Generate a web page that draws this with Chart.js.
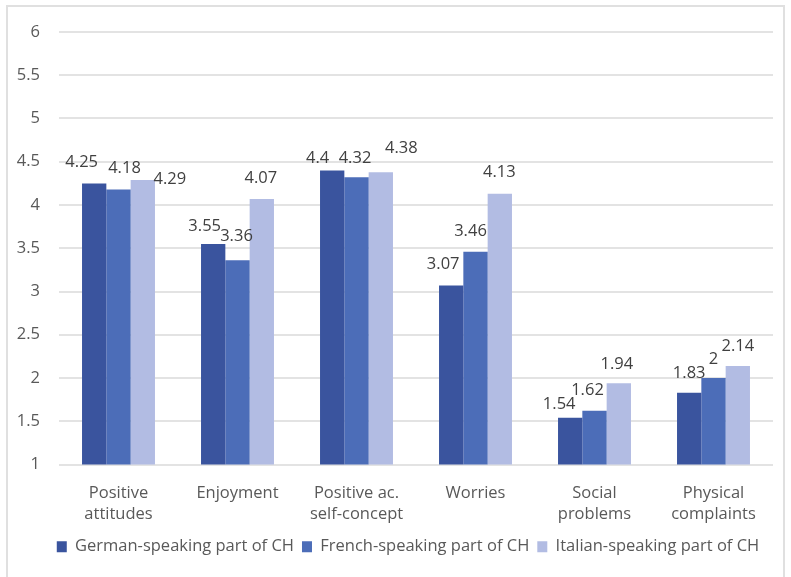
<!DOCTYPE html>
<html>
<head>
<meta charset="utf-8">
<script src="https://cdn.jsdelivr.net/npm/chart.js@4.4.1/dist/chart.umd.min.js"></script>
<style>
  html, body { margin: 0; padding: 0; background: #ffffff; }
  #wrap { position: relative; width: 791px; height: 577px; overflow: hidden; }
  #frame {
    position: absolute; left: 6px; top: 5px; width: 779px; height: 600px;
    border: 2px solid #e0e0e0; box-sizing: border-box; pointer-events: none;
  }
  canvas { display: block; }
</style>
</head>
<body>
<div id="wrap">
  <canvas id="chart" width="791" height="577"></canvas>
  <div id="frame"></div>
</div>
<script>
// Scale categories (multi-line labels)
const categories = [
  ["Positive", "attitudes"],
  ["Enjoyment"],
  ["Positive ac.", "self-concept"],
  ["Worries"],
  ["Social", "problems"],
  ["Physical", "complaints"]
];

// Mean scores per language region
const seriesNames = [
  "German-speaking part of CH",
  "French-speaking part of CH",
  "Italian-speaking part of CH"
];
const germanValues = [4.25, 3.55, 4.4, 3.07, 1.54, 1.83];
const frenchValues = [4.18, 3.36, 4.32, 3.46, 1.62, 2];
const italianValues = [4.29, 4.07, 4.38, 4.13, 1.94, 2.14];

// Y axis range and step
const yMin = 1;
const yMax = 6;
const yStep = 0.5;

// Series colours
const seriesColors = ["#3A549E", "#4C6DB8", "#B2BCE3"];

// Value-label nudges (px) so neighbouring labels do not collide
const labelShiftX = [
  [-12.5, -8.5, -14.5, -8, -11, 0],
  [6, -1, -1.5, -5, -7, 0],
  [27, -1, 20.5, -0.5, -2, 0]
];
const labelShiftY = [
  [0, 3, 9, 0, 7.5, 1.5],
  [0, -3, 2, 1, 0, 2],
  [20, 0, -2.5, 0, 2, 1]
];

const FONT = "'Open Sans', 'DejaVu Sans', sans-serif";
const TEXT_SIZE = 16.5;

// Draws each bar's value above it
const valueLabels = {
  id: 'valueLabels',
  afterDatasetsDraw(chart) {
    const ctx = chart.ctx;
    ctx.save();
    ctx.font = TEXT_SIZE + "px " + FONT;
    ctx.fillStyle = "#404040";
    ctx.textAlign = "center";
    ctx.textBaseline = "middle";
    chart.data.datasets.forEach((ds, di) => {
      const meta = chart.getDatasetMeta(di);
      meta.data.forEach((bar, i) => {
        const txt = String(ds.data[i]);
        const x = bar.x + labelShiftX[di][i];
        const y = bar.y - 21 + labelShiftY[di][i];
        ctx.fillText(txt, x, y);
      });
    });
    ctx.restore();
  }
};

// Centres the legend under the plot area rather than the whole canvas
const legendCentre = {
  id: 'legendCentre',
  afterLayout(chart) {
    const lg = chart.legend;
    if (!lg) return;
    const shift = (chart.chartArea.left + chart.chartArea.right) / 2 - (lg.left + lg.right) / 2 - 8;
    lg.left += shift;
    lg.right += shift;
  }
};

const datasets = [germanValues, frenchValues, italianValues].map((vals, i) => ({
  label: seriesNames[i],
  data: vals,
  backgroundColor: seriesColors[i],
  borderWidth: 0,
  categoryPercentage: 0.613,
  barPercentage: 1.0
}));

new Chart(document.getElementById('chart'), {
  type: 'bar',
  data: { labels: categories, datasets },
  plugins: [valueLabels, legendCentre],
  options: {
    responsive: false,
    animation: false,
    layout: { padding: { left: 0, right: 18, top: 32, bottom: 12 } },
    plugins: {
      tooltip: { enabled: false },
      legend: {
        position: 'bottom',
        labels: {
          boxWidth: 10,
          boxHeight: 11,
          padding: 8,
          color: "#595959",
          font: { family: FONT, size: 16.5 }
        }
      }
    },
    scales: {
      x: {
        grid: { display: false },
        border: { display: false },
        ticks: {
          color: "#595959",
          padding: 10,
          maxRotation: 0,
          autoSkip: false,
          font: { family: FONT, size: TEXT_SIZE, lineHeight: 1.27 }
        },
        afterFit(scale) { scale.height = 66; }
      },
      y: {
        min: yMin,
        max: yMax,
        border: { display: false },
        grid: { color: "#e3e3e3", lineWidth: 2, drawTicks: false },
        ticks: {
          stepSize: yStep,
          color: "#595959",
          padding: 19,
          font: { family: FONT, size: TEXT_SIZE },
          callback: v => String(v)
        },
        afterFit(scale) { scale.width = 59; }
      }
    }
  }
});
</script>
</body>
</html>
